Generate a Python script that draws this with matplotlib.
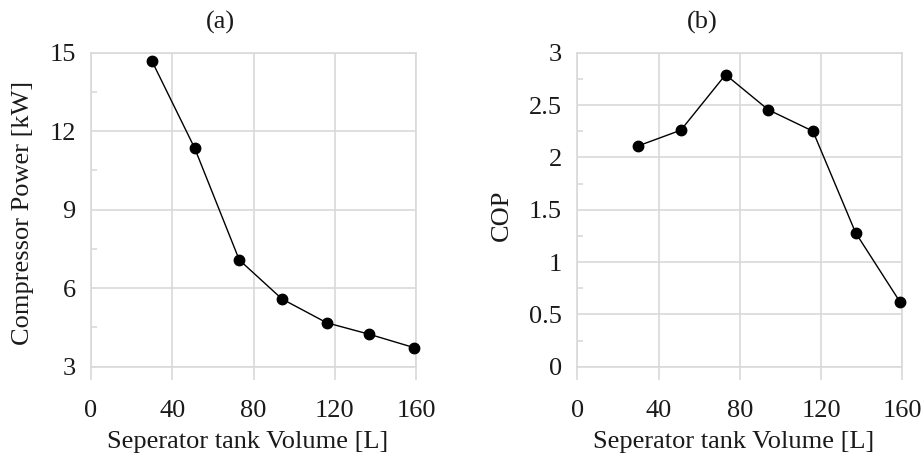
import matplotlib
matplotlib.use("Agg")
import matplotlib.pyplot as plt
from matplotlib.ticker import MultipleLocator

plt.rcParams['font.family'] = ['Liberation Serif', 'DejaVu Serif']

volume = [30, 51, 73, 94, 116, 137, 159]
power = [14.68, 11.36, 7.08, 5.59, 4.68, 4.24, 3.73]
cop = [2.11, 2.26, 2.79, 2.455, 2.25, 1.28, 0.615]

x_ticks = [0, 40, 80, 120, 160]
power_ticks = [3, 6, 9, 12, 15]
cop_ticks = [0, 0.5, 1, 1.5, 2, 2.5, 3]
cop_labels = ['0', '0.5', '1', '1.5', '2', '2.5', '3']

W, H = 921, 458
fig = plt.figure(figsize=(W / 100, H / 100), dpi=100)
GRID = '#d9d9d9'
TXT = '#1a1a1a'
FS = 19


def px_axes(left, top, right, bottom):
    return fig.add_axes([left / W, 1 - bottom / H, (right - left) / W, (bottom - top) / H])


def style(ax, yticks, ylabels, ylim, yminor):
    ax.set_xlim(0, 160)
    ax.set_ylim(*ylim)
    ax.set_xticks(x_ticks)
    ax.set_xticklabels([str(v) for v in x_ticks])
    ax.set_yticks(yticks)
    ax.set_yticklabels(ylabels)
    ax.yaxis.set_minor_locator(MultipleLocator(yminor))
    ax.grid(True, which='major', color=GRID, linewidth=1.2)
    ax.set_axisbelow(True)
    for s in ax.spines.values():
        s.set_color(GRID)
        s.set_linewidth(1.2)
    ax.tick_params(axis='x', which='major', direction='out', length=9.5, width=1.2,
                   color=GRID, labelsize=FS, labelcolor=TXT, pad=14.5)
    ax.tick_params(axis='y', which='major', length=0, labelsize=FS, labelcolor=TXT, pad=11)
    ax.tick_params(axis='y', which='minor', direction='in', length=4.5, width=1.2, color=GRID)
    ax.tick_params(axis='x', which='minor', length=0)


ax1 = px_axes(91, 52.7, 416, 366.7)
ax1.plot(volume, power, color='black', linewidth=1, marker='o', markersize=7.5, zorder=3, clip_on=False)
style(ax1, power_ticks, [str(v) for v in power_ticks], (3, 15), 1.5)

ax2 = px_axes(577.3, 52.7, 902.3, 366.7)
ax2.plot(volume, cop, color='black', linewidth=1, marker='o', markersize=7.5, zorder=3, clip_on=False)
style(ax2, cop_ticks, cop_labels, (0, 3), 0.25)

fig.text(220 / W, 1 - 22 / H, '(a)', ha='center', va='center', fontsize=FS, color=TXT)
fig.text(702.7 / W, 1 - 22 / H, '(b)', ha='center', va='center', fontsize=FS, color=TXT)
fig.text(247.7 / W, 1 - 441.7 / H, 'Seperator tank Volume [L]', ha='center', va='center', fontsize=FS, color=TXT)
fig.text(734 / W, 1 - 441.7 / H, 'Seperator tank Volume [L]', ha='center', va='center', fontsize=FS, color=TXT)
fig.text(23 / W, 1 - 213 / H, 'Compressor Power [kW]', ha='center', va='center', rotation=90, fontsize=FS, color=TXT)
fig.text(501.7 / W, 1 - 215 / H, 'COP', ha='center', va='center', rotation=90, fontsize=FS, color=TXT)

fig.savefig('out.png', dpi=100)
